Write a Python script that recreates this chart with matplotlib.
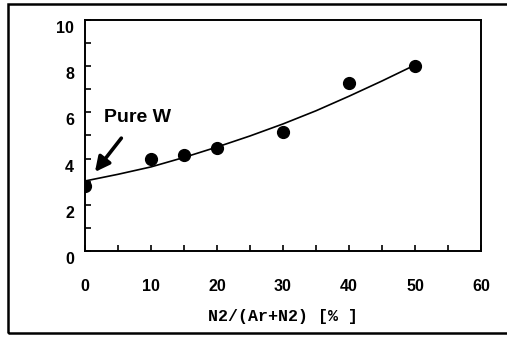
import matplotlib.pyplot as plt
import matplotlib.transforms as mtransforms
from matplotlib.patches import Rectangle
import numpy as np

# measured points
n2_ratio = [0, 10, 15, 20, 30, 40, 50]
value = [2.8, 4.0, 4.15, 4.47, 5.13, 7.28, 8.02]

# trend curve
trend_x = [0, 5, 10, 15, 20, 25, 30, 35, 40, 45, 50]
trend_y = [3.03, 3.32, 3.64, 4.05, 4.5, 4.98, 5.5, 6.07, 6.7, 7.36, 8.05]

fig = plt.figure(figsize=(5.07, 3.37), dpi=100)
ax = fig.add_axes([0.1677, 0.2552, 0.781, 0.6855])

ax.plot(trend_x, trend_y, 'k-', lw=1.2)
ax.plot(n2_ratio, value, 'ko', ms=8.5)

ax.set_xlim(0, 60)
ax.set_ylim(0, 10)
ax.set_xticks(range(0, 61, 10))
ax.set_xticks(range(0, 61, 5), minor=True)
ax.set_yticks(range(0, 11, 2))
ax.set_yticks(range(0, 11, 1), minor=True)

ax.tick_params(axis='x', which='both', direction='in', length=4, width=1.2,
               top=False, pad=20)
ax.tick_params(axis='y', which='both', direction='in', length=4, width=1.2,
               right=False, pad=8)
ax.tick_params(which='major', labelsize=11.5)
for lab in ax.get_xticklabels() + ax.get_yticklabels():
    lab.set_fontfamily('Liberation Sans')
    lab.set_fontweight('bold')

# y labels sit a bit lower than their ticks
shift = mtransforms.ScaledTranslation(0, -0.07, fig.dpi_scale_trans)
for lab in ax.get_yticklabels():
    lab.set_transform(lab.get_transform() + shift)

for s in ax.spines.values():
    s.set_linewidth(1.4)

ax.set_xlabel('N2/(Ar+N2) [% ]', family='Liberation Mono', weight='bold',
              fontsize=12, labelpad=11)

ax.annotate('Pure W', xy=(1.5, 3.42), xytext=(8.0, 5.8),
            ha='center', va='center', family='Liberation Sans',
            weight='bold', fontsize=14,
            arrowprops=dict(arrowstyle='-|>', color='k', lw=2.6,
                            mutation_scale=22, shrinkA=9, shrinkB=0))

# outer frame
fig.patches.append(Rectangle((8 / 507, 4 / 337), 1.2, 1 - 8 / 337,
                             transform=fig.transFigure, fill=False,
                             ec='k', lw=1.8))

fig.savefig('out.png', dpi=100)
